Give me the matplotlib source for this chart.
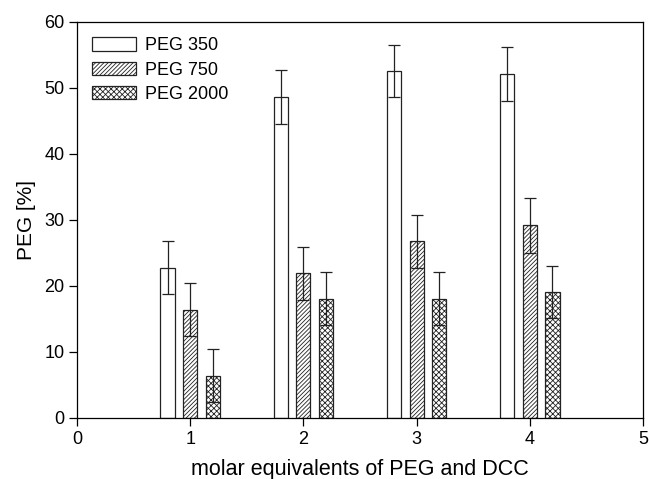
import numpy as np
import matplotlib
matplotlib.use("Agg")
import matplotlib.pyplot as plt

plt.rcParams['font.family'] = ['Liberation Sans', 'DejaVu Sans']
plt.rcParams['hatch.linewidth'] = 0.6

equivalents = [1, 2, 3, 4]
series = ["PEG 350", "PEG 750", "PEG 2000"]
peg350 = [22.8, 48.7, 52.6, 52.1]
peg350_err = [4.0, 4.1, 3.9, 4.1]
peg750 = [16.4, 21.9, 26.8, 29.2]
peg750_err = [4.0, 4.0, 4.0, 4.2]
peg2000 = [6.4, 18.1, 18.1, 19.1]
peg2000_err = [4.0, 4.0, 4.0, 4.0]

fig = plt.figure(figsize=(6.49, 4.79), dpi=100)
ax = fig.add_axes([77/649, 61/479, 566/649, 396/479])

x = np.array(equivalents)
width = 0.125
offsets = [-0.2, 0.0, 0.2]
hatches = ['', '////////', 'xxxxxx']
values = [peg350, peg750, peg2000]
errors = [peg350_err, peg750_err, peg2000_err]

for name, off, h, v, e in zip(series, offsets, hatches, values, errors):
    ax.bar(x + off, v, width, color='white', edgecolor='#222222', linewidth=0.9,
           hatch=h, label=name, zorder=2)
    ax.errorbar(x + off, v, yerr=e, fmt='none', ecolor='#222222', elinewidth=0.9,
                capsize=4, capthick=0.9, zorder=3)

ax.set_xlim(0, 5)
ax.set_ylim(0, 60)
ax.set_xticks([0, 1, 2, 3, 4, 5])
ax.set_yticks(range(0, 61, 10))
ax.tick_params(direction='out', length=6, width=0.9, labelsize=13, pad=3,
               top=False, right=False)
for s in ax.spines.values():
    s.set_linewidth(0.9)

ax.set_xlabel("molar equivalents of PEG and DCC", fontsize=15.5, labelpad=8)
ax.set_ylabel("PEG [%]", fontsize=15, labelpad=6)

leg = ax.legend(loc='upper left', frameon=False, fontsize=13, handlelength=2.4,
                handleheight=0.75, labelspacing=0.4, handletextpad=0.5,
                borderaxespad=0.45, bbox_to_anchor=(0.0, 1.0))

fig.savefig("out.png", dpi=100)
